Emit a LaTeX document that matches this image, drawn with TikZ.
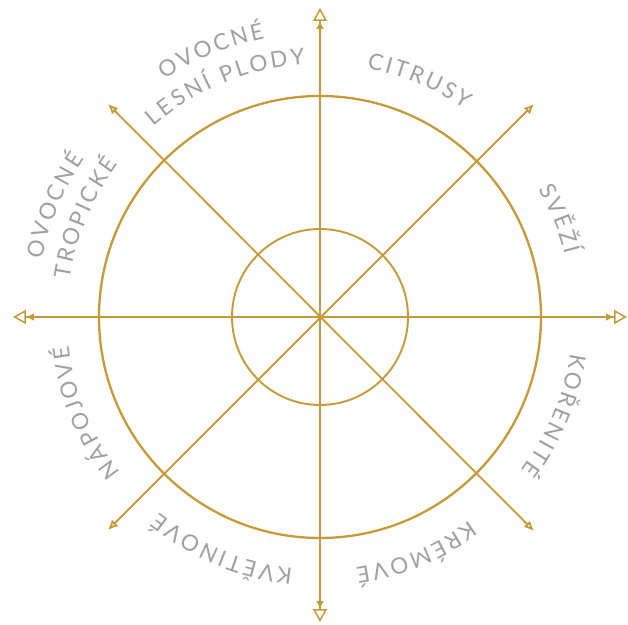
\documentclass[tikz,border=0pt]{standalone}
\usepackage{fontspec}
\setmainfont{Lato}
\newfontfamily\wheelfont{Lato}
\usetikzlibrary{arrows.meta,decorations.text}
\definecolor{wheelgold}{HTML}{C89A35}
\definecolor{wheelgrey}{HTML}{A0A0A0}
\newcommand{\lblfont}{\wheelfont\fontsize{22.5pt}{22.5pt}\selectfont\kern2.6pt}
\tikzset{
  ring/.style={circle,draw=wheelgold,inner sep=0pt},
  axisarrow/.style={wheelgold,line width=1.8pt,
    {Triangle[open,length=13pt,width=14pt,line width=1.5pt]Latex[length=8pt,width=8pt]}-{Latex[length=8pt,width=8pt]Triangle[open,length=13pt,width=14pt,line width=1.5pt]}},
  diagarrow/.style={wheelgold,line width=1.8pt,
    {Latex[open,length=10pt,width=9pt]}-{Latex[open,length=10pt,width=9pt]}},
  flavour/.style={decorate,decoration={text along path,text align=center,
    text color=wheelgrey,text={|\lblfont|#1}}},
}

\begin{document}
\begin{tikzpicture}[x=1pt,y=1pt]
  \useasboundingbox (-320,-307) rectangle (308,317);
  % centre and arrow ends
  \coordinate (O) at (0,0);
  \coordinate (W) at (-307,0);
  \coordinate (E) at (307,0);
  \coordinate (N) at (0,309);
  \coordinate (S) at (0,-305);
  \coordinate (NW) at (-212,213);
  \coordinate (NE) at (214,213);
  \coordinate (SW) at (-212,-213);
  \coordinate (SE) at (214,-214);
  % rings
  \node[ring,line width=2.3pt,minimum size=442] (outer) at (O) {};
  \node[ring,line width=1.9pt,minimum size=176] (inner) at (O) {};
  % axes
  \draw[axisarrow] (W) -- (E);
  \draw[axisarrow] (S) -- (N);
  \draw[diagarrow] (NW) -- (SE);
  \draw[diagarrow] (SW) -- (NE);
  % labels, clockwise round the wheel
  \path[flavour=CITRUSY] (107.5:253) arc[start angle=107.5,end angle=27.5,radius=253];
  \path[flavour=SVĚŽÍ] (62.5:253) arc[start angle=62.5,end angle=-17.5,radius=253];
  \path[flavour=KOŘENITÉ] (17.5:253) arc[start angle=17.5,end angle=-62.5,radius=253];
  \path[flavour=KRÉMOVÉ] (-27.5:253) arc[start angle=-27.5,end angle=-107.5,radius=253];
  \path[flavour=KVĚTINOVÉ] (-72.5:253) arc[start angle=-72.5,end angle=-152.5,radius=253];
  \path[flavour=NÁPOJOVÉ] (-117.5:253) arc[start angle=-117.5,end angle=-197.5,radius=253];
  \path[flavour=TROPICKÉ] (197.5:253) arc[start angle=197.5,end angle=117.5,radius=253];
  \path[flavour=OVOCNÉ] (197.5:284) arc[start angle=197.5,end angle=117.5,radius=284];
  \path[flavour=LESNÍ PLODY] (152.5:253) arc[start angle=152.5,end angle=72.5,radius=253];
  \path[flavour=OVOCNÉ] (152.5:284) arc[start angle=152.5,end angle=72.5,radius=284];
\end{tikzpicture}
\end{document}
